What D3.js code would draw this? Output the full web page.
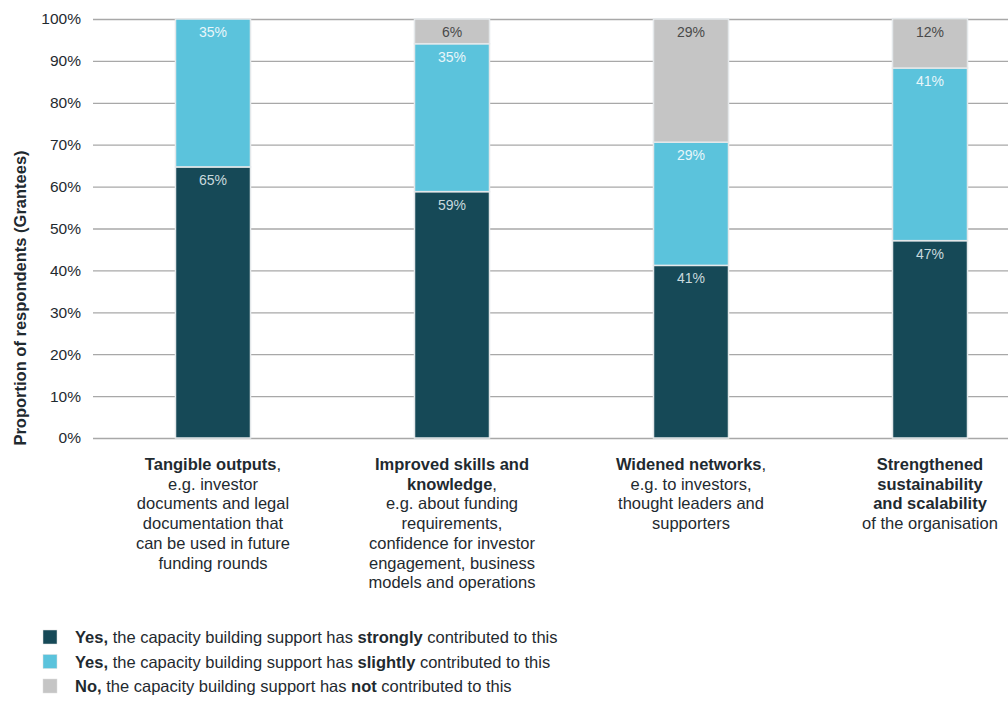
<!DOCTYPE html>
<html><head><meta charset="utf-8">
<script src="https://cdn.jsdelivr.net/npm/d3@7"></script>
<style>
body{margin:0;background:#fff;}
text{font-family:"Liberation Sans",Arial,Helvetica,sans-serif;}
</style></head>
<body><svg id="c" width="1008" height="704"></svg>
<script>
const categories = ["Tangible outputs","Improved skills and knowledge","Widened networks","Strengthened sustainability and scalability"];
// share of 17 respondents
const strongly = [0.647, 0.588, 0.412, 0.471];
const slightly = [0.353, 0.353, 0.294, 0.412];
const notAtAll = [0.000, 0.059, 0.294, 0.118];
const seriesNames = ["strongly","slightly","not"];
const seriesColors = ["#164957","#5bc3dc","#c5c5c5"];
const labelColors = ["#c9dade","#e8f6fa","#4a4a4a"];
const yTicks = [0,0.1,0.2,0.3,0.4,0.5,0.6,0.7,0.8,0.9,1];
const catLines = [
  [[["Tangible outputs",1],[",",0]],[["e.g. investor",0]],[["documents and legal",0]],[["documentation that",0]],[["can be used in future",0]],[["funding rounds",0]]],
  [[["Improved skills and",1]],[["knowledge",1],[",",0]],[["e.g. about funding",0]],[["requirements,",0]],[["confidence for investor",0]],[["engagement, business",0]],[["models and operations",0]]],
  [[["Widened networks",1],[",",0]],[["e.g. to investors,",0]],[["thought leaders and",0]],[["supporters",0]]],
  [[["Strengthened",1]],[["sustainability",1]],[["and scalability",1]],[["of the organisation",0]]]
];
const legendItems = [
  [["Yes,",1],[" the capacity building support has ",0],["strongly",1],[" contributed to this",0]],
  [["Yes,",1],[" the capacity building support has ",0],["slightly",1],[" contributed to this",0]],
  [["No,",1],[" the capacity building support has ",0],["not",1],[" contributed to this",0]]
];
const yTitle = "Proportion of respondents (Grantees)";

const svg = d3.select("#c");
const mLeft = 93, mRight = 1008, mTop = 19, mBottom = 438;
const y = d3.scaleLinear().domain([0,1]).range([mBottom, mTop]);
const x = d3.scalePoint().domain(categories).range([93.5, 1049.5]).padding(0.5);
const barW = 75;
const textCol = "#1f2a30";

// grid
svg.append("g").selectAll("line").data(yTicks).join("line")
  .attr("x1", mLeft).attr("x2", mRight)
  .attr("y1", d=>y(d)+0.5).attr("y2", d=>y(d)+0.5)
  .attr("stroke","#a8a8a8").attr("stroke-width",1.3);

// y axis labels
const yAxis = d3.axisLeft(y).tickValues(yTicks).tickFormat(d3.format(".0%")).tickSize(0).tickPadding(0);
const ga = svg.append("g").attr("transform",`translate(81,0)`).call(yAxis);
ga.select(".domain").remove();
ga.selectAll("text").attr("font-size",15.5).attr("fill",textCol).attr("font-family","Liberation Sans, Arial, sans-serif");

// y title
svg.append("text").attr("transform","translate(26,298) rotate(-90)")
  .attr("text-anchor","middle").attr("font-size",16.5).attr("font-weight","bold").attr("fill",textCol)
  .text(yTitle);

// stacks
const rows = categories.map((c,i)=>({cat:c, strongly:strongly[i], slightly:slightly[i], not:notAtAll[i]}));
const stack = d3.stack().keys(seriesNames)(rows);
stack.forEach((s,si)=>{
  const g = svg.append("g");
  g.selectAll("rect").data(s.filter(d=>d[1]-d[0]>0)).join("rect")
    .attr("x", d=>x(d.data.cat)-barW/2)
    .attr("width", barW)
    .attr("y", d=>y(d[1]))
    .attr("height", d=>y(d[0])-y(d[1]))
    .attr("fill", seriesColors[si])
    .attr("stroke","#e4e8ea").attr("stroke-width",1.5);
  g.selectAll("text").data(s.filter(d=>d[1]-d[0]>0)).join("text")
    .attr("x", d=>x(d.data.cat))
    .attr("y", d=>y(d[1])+18)
    .attr("text-anchor","middle").attr("font-size",14)
    .attr("fill", labelColors[si])
    .text(d=>d3.format(".0%")(d[1]-d[0]));
});

// category labels
catLines.forEach((lines,i)=>{
  const t = svg.append("text").attr("text-anchor","middle").attr("font-size",16.5).attr("fill",textCol);
  lines.forEach((parts,li)=>{
    parts.forEach((p,pi)=>{
      const ts = t.append("tspan").text(p[0]).attr("font-weight",p[1]?"bold":"normal");
      if(pi===0) ts.attr("x", x(categories[i])).attr("y", 470+li*19.7);
    });
  });
});

// legend
legendItems.forEach((parts,i)=>{
  const yy = 637 + i*24.5;
  svg.append("rect").attr("x",43).attr("y",yy-7).attr("width",14).attr("height",14)
    .attr("fill",seriesColors[i]).attr("stroke","#ddd").attr("stroke-width",0.5);
  const t = svg.append("text").attr("x",75).attr("y",yy+6).attr("font-size",16.5).attr("fill",textCol);
  parts.forEach(p=>t.append("tspan").text(p[0]).attr("font-weight",p[1]?"bold":"normal"));
});
</script></body></html>
